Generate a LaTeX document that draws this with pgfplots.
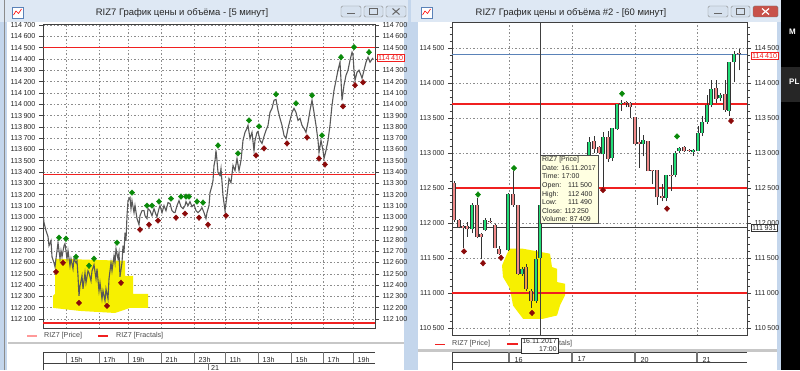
\documentclass[border=0pt]{standalone}
\usepackage{fontspec}
\setmainfont{Liberation Sans}
\usepackage{pgfplots}
\pgfplotsset{compat=1.18}
\usepackage{pgfplotstable}

\definecolor{frame}{HTML}{C4D6EC}
\definecolor{titlebar}{HTML}{DEE8F4}
\definecolor{btn}{HTML}{D6E1EE}
\definecolor{closebtn}{HTML}{C8524A}
\definecolor{candleup}{HTML}{22DD77}
\definecolor{candledn}{HTML}{F08A8A}
\definecolor{candleor}{HTML}{F0A040}
\definecolor{fracup}{HTML}{0A8A0A}
\definecolor{fracdn}{HTML}{8B0A0A}
\definecolor{hl}{HTML}{F7F000}
\definecolor{tip}{HTML}{FFFFE1}
\definecolor{pricegray}{HTML}{585858}
\definecolor{bluel}{HTML}{5A82B8}
\definecolor{redl}{HTML}{F02020}

\newcommand{\sm}{\fontsize{7.2}{8.4}\selectfont}
\newcommand{\ks}{\kern1.5bp}

\pgfplotsset{
  chart/.style={
    scale only axis, anchor=south west,
    axis line style={black!75, line width=0.7bp},
    tick align=outside,
    major tick length=4bp, minor tick length=2.5bp,
    tick style={black!75, line width=0.5bp},
    ticklabel style={font=\sm, text=black!85},
    scaled ticks=false,
    /pgf/number format/fixed,
    /pgf/number format/1000 sep={\kern1.5bp},
    /pgf/number format/assume math mode=true,
    major grid style={black!45, dash pattern=on 1.5bp off 2bp, line width=0.5bp},
    xtick style={draw=none},
  },
  wick/.style={draw=none, mark=none, forget plot,
    error bars/.cd, y dir=plus, y explicit, error mark=none,
    error bar style={draw=black!80, solid, line width=0.8bp}},
  bodyout/.style={draw=none, mark=none, forget plot,
    error bars/.cd, y dir=plus, y explicit, error mark=none,
    error bar style={draw=black!80, solid, line width=3.6bp}},
  bodyfill/.style={draw=none, mark=none, forget plot,
    error bars/.cd, y dir=plus, y explicit, error mark=none,
    error bar style={draw=#1, solid, line width=2.2bp}},
  frac/.style={only marks, mark=diamond*, mark size=2.8bp, #1, mark options={xscale=1.25, fill=#1, draw=#1}},
}

% ---------- left chart (5 min) ----------
\pgfplotstableread{
x y
43 113032
44 112952
46 112881
48 112828
49 112748
51 112792
52 112650
54 112597
55 112562
57 112704
58 112775
60 112633
61 112704
62 112650
64 112748
65 112766
67 112633
68 112704
70 112570
71 112633
73 112544
74 112633
76 112597
77 112615
78 112482
79 112304
80 112393
82 112482
83 112366
85 112508
86 112420
88 112526
89 112508
91 112437
92 112526
94 112579
96 112455
97 112544
99 112349
100 112420
102 112278
103 112349
105 112260
106 112366
108 112278
109 112455
111 112597
112 112526
114 112659
115 112597
116 112721
118 112633
119 112686
120 112473
122 112597
123 112748
124 112686
125 112863
126 112792
127 113014
128 113147
130 113174
131 113076
132 113147
134 113041
135 113103
137 112988
139 112934
140 113014
142 113058
144 113058
145 113014
147 112988
148 113076
150 113058
152 113014
154 113076
156 113023
157 113005
159 113076
160 113103
162 113041
164 113103
166 113058
168 113130
170 113121
172 113058
174 113041
175 113041
177 113103
179 113147
181 113094
183 113076
185 113103
186 113138
188 113103
190 113138
192 113094
194 113112
196 113058
198 113041
200 113058
202 113085
204 113041
206 112988
207 113041
209 113103
210 113218
212 113280
213 113325
214 113458
215 113502
216 113591
217 113502
218 113396
220 113369
221 113431
223 113192
225 113058
227 113192
229 113342
231 113307
233 113458
235 113413
237 113520
239 113413
241 113502
243 113680
245 113751
247 113786
248 113813
250 113697
252 113751
254 113591
255 113680
257 113751
258 113759
260 113680
262 113653
264 113715
266 113768
268 113813
270 113928
272 113964
274 114035
276 114043
278 113946
280 113875
282 113813
284 113724
286 113697
288 113786
290 113857
292 113928
294 113964
296 113928
298 113857
300 113875
302 113813
304 113786
306 113751
308 113839
310 113946
312 114035
314 113928
316 113813
318 113680
319 113573
321 113680
323 113591
324 113520
326 113591
328 113680
330 113813
332 113990
334 114123
336 114212
338 114301
340 114372
341 114212
342 114035
344 114168
346 114256
348 114301
350 114389
352 114460
353 114434
354 114301
355 114212
357 114283
359 114301
361 114256
362 114230
364 114301
366 114372
368 114416
370 114372
373 114410
}\leftprice

\pgfplotstableread{
x y
59 112819
66 112810
76 112650
89 112571
94 112633
117 112775
132 113218
147 113103
152 113103
159 113139
171 113165
181 113183
186 113183
189 113183
197 113139
203 113130
218 113635
238 113565
249 113857
259 113804
276 114088
296 114008
312 114079
322 113724
341 114416
354 114505
369 114460
}\leftup

\pgfplotstableread{
x y
56 112517
63 112597
79 112242
107 112216
121 112420
140 112890
149 112934
158 112970
176 112996
185 113032
199 112996
208 112934
226 113014
256 113547
264 113609
287 113653
307 113706
319 113520
325 113467
343 113981
355 114168
363 114194
}\leftdn

\pgfplotstableread{
x y
55 112633
125 112615
125 112482
133 112482
133 112322
148 112322
148 112198
130 112198
115 112153
80 112171
53 112198
53 112304
55 112322
55 112633
}\leftyellow

% ---------- right chart (60 min) ----------
% x = candle position, l = low, hl = high - low, b = body bottom, bl = body length
\pgfplotstableread{
x l hl b bl
472 111850 430 111908 353
485 111890 178 111899 145
508 111600 830 111609 807
522 111247 121 111271 72
536 110860 749 110885 603
540 111490 910 111500 750
545 112200 400 112250 270
554 112350 350 112380 270
558 112600 250 112650 130
567 112620 260 112640 180
572 112780 160 112820 80
581 112780 170 112800 120
589 112935 287 112958 201
603 112510 790 112980 242
612 112890 470 112930 420
617 113330 373 113340 353
621 113600 160 113693 20
643 112950 310 113131 57
666 112310 380 112358 322
675 112650 376 112689 313
679 113000 80 113030 40
693 112960 100 113020 15
698 113030 360 113030 256
702 113240 294 113286 162
707 113420 402 113448 230
711 113650 386 113678 239
720 113740 110 113783 48
729 113525 775 113606 693
734 114012 441 114299 120
}\rup

\pgfplotstableread{
x l hl b bl
454 112020 580 112044 531
459 111923 130 111937 107
463 111640 331 111923 34
467 111802 218 111908 49
477 111780 578 111802 449
481 111480 370 111802 34
490 112000 70 112015 15
495 111640 340 111648 323
499 111537 131 111561 72
513 112230 514 112251 165
518 111260 1000 111271 980
549 112300 260 112380 140
563 112600 220 112640 140
576 112760 170 112800 100
585 112850 100 112880 50
594 113006 240 113054 120
599 112982 120 113006 72
608 112875 443 112910 312
626 113650 96 113708 15
630 113500 222 113650 58
635 113120 395 113131 384
639 112790 576 113131 19
648 112742 432 112742 432
652 112550 210 112742 18
657 112260 496 112367 389
662 112310 240 112358 33
671 112454 374 112665 15
684 113020 80 113030 60
689 113020 30 113030 15
716 113720 316 113774 153
725 113590 446 113616 224
739 114180 300 114410 15
}\rdn

\pgfplotstableread{
x l hl b bl
526 111030 386 111054 314
531 110788 266 110885 145
}\ror

\pgfplotstableread{
x y
478 112406
514 112783
622 113846
677 113236
}\rightup

\pgfplotstableread{
x y
464 111594
483 111425
501 111503
532 110715
603 112469
667 112204
731 113457
}\rightdn

\pgfplotstableread{
x y
507 111561
510 111632
523 111632
550 111561
552 111370
557 111346
557 111156
565 111132
565 110965
560 110822
557 110679
543 110632
523 110632
513 110822
510 111060
503 111228
502 111393
507 111561
}\rightyellow

\begin{document}
\begin{tikzpicture}[x=1bp,y=1bp]
% ---------------- window chrome ----------------
\fill[frame] (0,0) rectangle (800,370);
\fill[titlebar] (0,348) rectangle (408,370);
\fill[white] (7,0) rectangle (404,348);
\draw[black!45] (4.5,0) -- (4.5,370);
\fill[titlebar] (411,348) rectangle (781,370);
\fill[white] (418,0) rectangle (777,348);
% titles
\node[font=\fontsize{9.5}{11}\selectfont, text=black!85] at (182,357) {RIZ7 График цены и объёма - [5 минут]};
\node[font=\fontsize{9.5}{11}\selectfont, text=black!85] at (571,357) {RIZ7 График цены и объёма \#2 - [60 минут]};
% icons
\draw[bluel, fill=white] (12,352) rectangle (23,363);
\draw[red, line width=0.6] (13.5,355) -- (16,359) -- (18.5,356.5) -- (21.5,361);
\draw[bluel, fill=white] (421,352) rectangle (432,363);
\draw[red, line width=0.6] (422.5,355) -- (425,359) -- (427.5,356.5) -- (430.5,361);
% buttons left
\draw[black!45, fill=btn, rounded corners=1.5] (341,353) rectangle (361,364);
\draw[black!60, line width=1.2] (347,356.5) -- (355,356.5);
\draw[black!45, fill=btn, rounded corners=1.5] (364,353) rectangle (383,364);
\draw[black!60, line width=0.9] (369.5,355.5) rectangle (377.5,361.5);
\draw[black!45, fill=btn, rounded corners=1.5] (386,353) rectangle (406,364);
\draw[black!60, line width=1] (392.5,355.5) -- (399.5,361.5) (392.5,361.5) -- (399.5,355.5);
% buttons right
\draw[black!45, fill=btn, rounded corners=1.5] (708,353) rectangle (728,364);
\draw[black!60, line width=1.2] (714,356.5) -- (722,356.5);
\draw[black!45, fill=btn, rounded corners=1.5] (731,353) rectangle (750,364);
\draw[black!60, line width=0.9] (736.5,355.5) rectangle (744.5,361.5);
\draw[black!55, fill=closebtn, rounded corners=1.5] (753,353) rectangle (778,364);
\draw[white, line width=1.2] (762,355.5) -- (769,361.5) (762,361.5) -- (769,355.5);

% ---------------- left: legend, separators, time strip ----------------
\draw[red!40, line width=1.2] (27,34) -- (37,34);
\node[anchor=west, font=\sm, text=black!70, inner sep=0] at (44,34) {RIZ7 [Price]};
\draw[redl, line width=1.5] (98,34) -- (108,34);
\node[anchor=west, font=\sm, text=black!70, inner sep=0] at (116,34) {RIZ7 [Fractals]};
\fill[black!22] (8,26) rectangle (404,28);
\draw[black!75, line width=0.7] (43,18) -- (375,18);
\draw[black!75, line width=0.7] (43,7) -- (375,7);
\draw[black!75, line width=0.7] (43,0) -- (43,18);
\foreach \xx in {66,99,128,161,194,225,258,291,323,353}
  \draw[black!55, line width=1] (\xx,7) -- (\xx,18);
\draw[black!55, line width=1] (208,0) -- (208,7);
\node[anchor=west, font=\sm, text=black!85, inner sep=0] at (211,2.5) {21};

% ---------------- right: legend, separators, time strip ----------------
\draw[redl, line width=0.9] (435,26) -- (445,26);
\node[anchor=west, font=\sm, text=black!70, inner sep=0] at (452,26) {RIZ7 [Price]};
\draw[redl, line width=2] (507,26) -- (518,26);
\node[anchor=west, font=\sm, text=black!70, inner sep=0] at (525,26) {RIZ7 [Fractals]};
\fill[black!22] (418,18) rectangle (777,21);
\draw[black!75, line width=0.7] (452,18) -- (747,18);
\draw[black!75, line width=0.7] (452,8) -- (747,8);
\draw[black!75, line width=0.7] (452,0) -- (452,18);
\foreach \xx in {509,572,635,697}
  \draw[black!55, line width=1.2] (\xx,8) -- (\xx,18);

% ---------------- left axis ----------------
\begin{axis}[chart, at={(43bp,42bp)}, width=332bp, height=304bp,
  xmin=43, xmax=375, ymin=112020, ymax=114710,
  ytick={112100,112200,112300,112400,112500,112600,112700,112800,112900,113000,113100,113200,113300,113400,113500,113600,113700,113800,113900,114000,114100,114200,114300,114400,114500,114600,114700},
  xtick={66,99,128,161,194,225,258,291,323,353},
  xticklabels={15h,17h,19h,21h,23h,11h,13h,15h,17h,19h},
  xticklabel style={anchor=north west, xshift=1bp, yshift=-21.5bp},
  xmajorgrids, ymajorgrids]
\addplot[fill=hl, draw=none, mark=none] table {\leftyellow};
\addplot[redl, line width=1.3bp, mark=none] coordinates {(43,114500) (375,114500)};
\addplot[redl, line width=1.3bp, mark=none] coordinates {(43,113380) (375,113380)};
\addplot[redl, line width=1.3bp, mark=none] coordinates {(43,112065) (375,112065)};
\addplot[pricegray, line width=1.1bp, mark=none] table {\leftprice};
\addplot[frac=fracup] table {\leftup};
\addplot[frac=fracdn] table {\leftdn};
\end{axis}
\begin{axis}[chart, at={(43bp,42bp)}, width=332bp, height=304bp,
  xmin=43, xmax=375, ymin=112020, ymax=114710,
  ytick={112100,112200,112300,112400,112500,112600,112700,112800,112900,113000,113100,113200,113300,113400,113500,113600,113700,113800,113900,114000,114100,114200,114300,114500,114600,114700},
  yticklabel pos=right, xtick=\empty,
  axis line style={draw=none}, ytick style={draw=none}]
\addplot[draw=none, mark=none] coordinates {(100,113000)};
\end{axis}

% ---------------- right axis ----------------
\begin{axis}[chart, at={(452bp,35bp)}, width=295bp, height=313bp,
  xmin=452, xmax=747, ymin=110400, ymax=114870,
  ytick={110500,111000,111500,112000,112500,113000,113500,114000,114500},
  minor ytick={110600,110700,110800,110900,111100,111200,111300,111400,111600,111700,111800,111900,112100,112200,112300,112400,112600,112700,112800,112900,113100,113200,113300,113400,113600,113700,113800,113900,114100,114200,114300,114400,114600,114700,114800},
  xtick={509,572,635,697},
  xticklabels={16,17,20,21},
  xticklabel style={anchor=north west, xshift=2bp, yshift=-14.5bp},
  xmajorgrids, ymajorgrids]
\addplot[fill=hl, draw=none, mark=none] table {\rightyellow};
\addplot[redl, line width=1.3bp, mark=none] coordinates {(452,113700) (747,113700)};
\addplot[redl, line width=1.3bp, mark=none] coordinates {(452,112500) (747,112500)};
\addplot[redl, line width=1.3bp, mark=none] coordinates {(452,111000) (747,111000)};
\addplot[bluel, line width=0.9bp, mark=none] coordinates {(452,114410) (747,114410)};
\addplot[black!75, line width=0.8bp, mark=none] coordinates {(452,111931) (747,111931)};
\addplot[black!75, line width=0.8bp, mark=none] coordinates {(540,110400) (540,114870)};
\addplot[wick] table[x=x, y=l, y error plus=hl] {\rup};
\addplot[wick] table[x=x, y=l, y error plus=hl] {\rdn};
\addplot[wick] table[x=x, y=l, y error plus=hl] {\ror};
\addplot[bodyout] table[x=x, y=b, y error plus=bl] {\rup};
\addplot[bodyout] table[x=x, y=b, y error plus=bl] {\rdn};
\addplot[bodyout] table[x=x, y=b, y error plus=bl] {\ror};
\addplot[bodyfill=candleup] table[x=x, y=b, y error plus=bl] {\rup};
\addplot[bodyfill=candledn] table[x=x, y=b, y error plus=bl] {\rdn};
\addplot[bodyfill=candleor] table[x=x, y=b, y error plus=bl] {\ror};
\addplot[frac=fracup] table {\rightup};
\addplot[frac=fracdn] table {\rightdn};
\end{axis}
\begin{axis}[chart, at={(452bp,35bp)}, width=295bp, height=313bp,
  xmin=452, xmax=747, ymin=110400, ymax=114870,
  ytick={110500,111000,111500,112000,112500,113000,113500,114000,114500},
  yticklabel pos=right, xtick=\empty,
  axis line style={draw=none}, ytick style={draw=none}]
\addplot[draw=none, mark=none] coordinates {(600,112000)};
\end{axis}

% ---------------- overlays ----------------
\node[draw=redl, fill=white, text=redl, font=\sm, inner xsep=1bp, inner ysep=0.8bp, anchor=west] at (377,312) {114\ks410};
\node[draw=redl, fill=white, text=redl, font=\sm, inner xsep=1bp, inner ysep=0.8bp, anchor=west] at (751,314) {114\ks410};
\node[draw=black!80, fill=white, text=black!85, font=\sm, inner xsep=1bp, inner ysep=0.8bp, anchor=west] at (751,142) {111\ks931};
\node[draw=black!70, fill=tip, anchor=north west, inner xsep=2bp, inner ysep=1.5bp,
  font=\fontsize{7}{8.6}\selectfont, align=left, text=black!85] at (540,215)
  {RIZ7 [Price]\\Date: 16.11.2017\\Time: 17:00\\\makebox[26bp][l]{Open:}111\ks500\\\makebox[26bp][l]{High:}112\ks400\\\makebox[26bp][l]{Low:}111\ks490\\Close: 112\ks250\\Volume: 87\ks409};
\node[draw=black!80, fill=white, font=\fontsize{7}{8}\selectfont, inner sep=1bp, align=right, text=black!85] at (539.5,24.5) {16.11.2017\\17:00};
% dark strip of the next window
\fill[black] (781,0) rectangle (800,370);
\fill[black!85] (781,268) rectangle (800,303);
\node[text=white, font=\bfseries\fontsize{8}{9}\selectfont, anchor=west, inner sep=0] at (789,338) {M};
\node[text=white, font=\bfseries\fontsize{8}{9}\selectfont, anchor=west, inner sep=0] at (789,288) {PL};
\pgfresetboundingbox
\useasboundingbox (0,0) rectangle (800,370);
\end{tikzpicture}
\end{document}
